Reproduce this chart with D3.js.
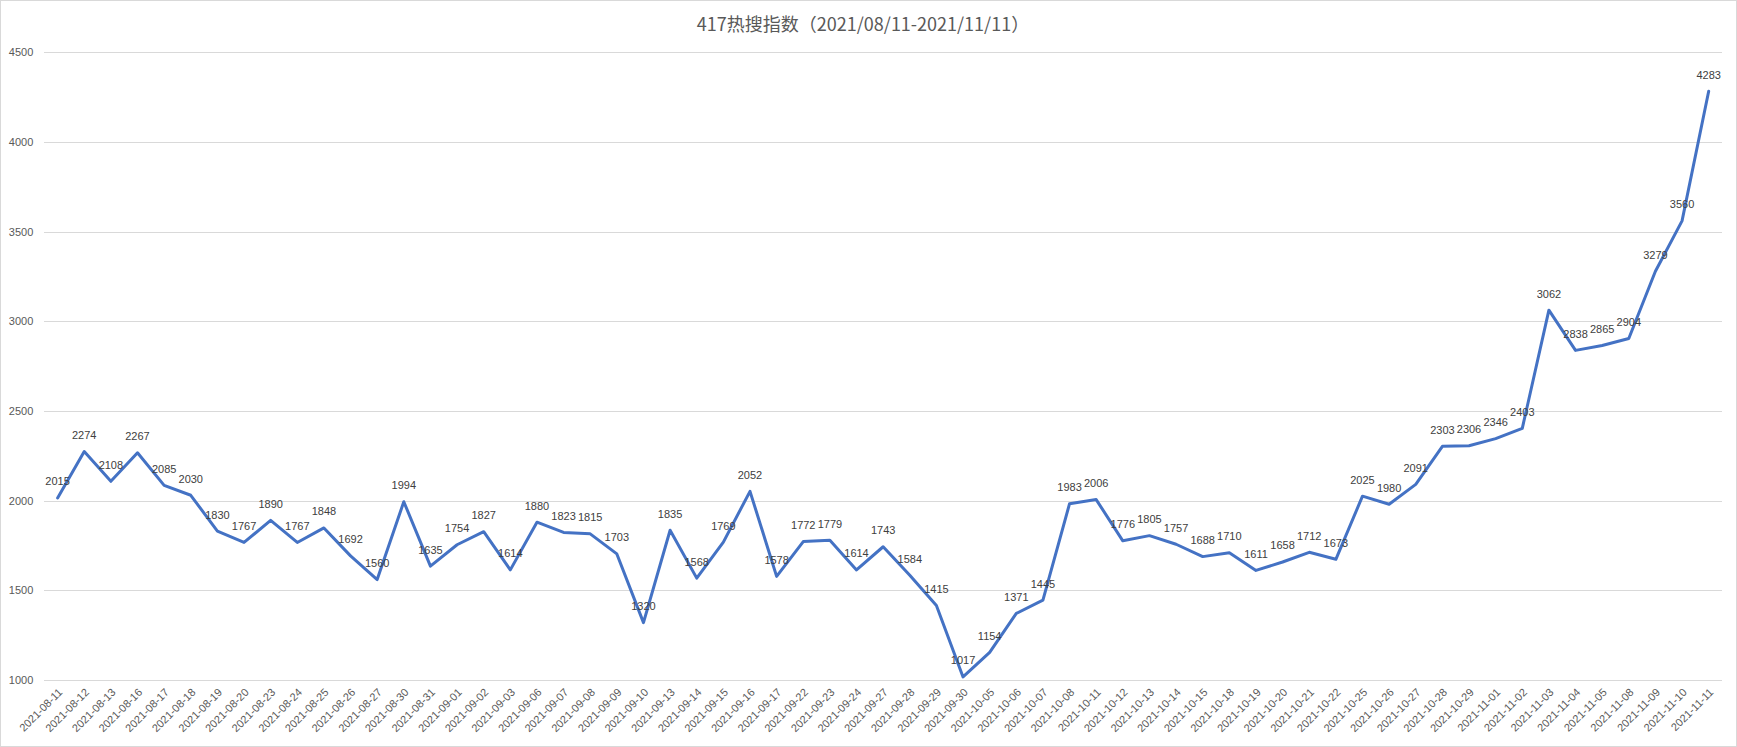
<!DOCTYPE html>
<html>
<head>
<meta charset="utf-8">
<script src="https://cdn.jsdelivr.net/npm/d3@7"></script>
<style>
  html, body { margin: 0; padding: 0; background: #fff; }
  svg { display: block; }
</style>
</head>
<body>
<svg id="chart" width="1737" height="747"></svg>
<script>
const title = "417热搜指数（2021/08/11-2021/11/11）";
const categories = [
  "2021-08-11","2021-08-12","2021-08-13","2021-08-16","2021-08-17","2021-08-18","2021-08-19","2021-08-20",
  "2021-08-23","2021-08-24","2021-08-25","2021-08-26","2021-08-27","2021-08-30","2021-08-31",
  "2021-09-01","2021-09-02","2021-09-03","2021-09-06","2021-09-07","2021-09-08","2021-09-09","2021-09-10",
  "2021-09-13","2021-09-14","2021-09-15","2021-09-16","2021-09-17","2021-09-22","2021-09-23","2021-09-24",
  "2021-09-27","2021-09-28","2021-09-29","2021-09-30",
  "2021-10-05","2021-10-06","2021-10-07","2021-10-08","2021-10-11","2021-10-12","2021-10-13","2021-10-14",
  "2021-10-15","2021-10-18","2021-10-19","2021-10-20","2021-10-21","2021-10-22","2021-10-25","2021-10-26",
  "2021-10-27","2021-10-28","2021-10-29",
  "2021-11-01","2021-11-02","2021-11-03","2021-11-04","2021-11-05","2021-11-08","2021-11-09","2021-11-10","2021-11-11"
];
const values = [
  2015, 2274, 2108, 2267, 2085, 2030, 1830, 1767, 1890, 1767, 1848, 1692, 1560, 1994, 1635,
  1754, 1827, 1614, 1880, 1823, 1815, 1703, 1320, 1835, 1568, 1769, 2052, 1578, 1772, 1779, 1614,
  1743, 1584, 1415, 1017,
  1154, 1371, 1445, 1983, 2006, 1776, 1805, 1757, 1688, 1710, 1611, 1658, 1712, 1673, 2025, 1980,
  2091, 2303, 2306,
  2346, 2403, 3062, 2838, 2865, 2904, 3279, 3560, 4283
];
const yTicks = [1000, 1500, 2000, 2500, 3000, 3500, 4000, 4500];

const W = 1737, H = 747;
const plot = { left: 44.3, right: 1722, top: 52.3, bottom: 680 };
const svg = d3.select("#chart");
const font = "'Liberation Sans', Arial, sans-serif";

// outer border
svg.append("rect").attr("x", 0.5).attr("y", 0.5).attr("width", W - 1).attr("height", H - 1)
  .attr("fill", "#fff").attr("stroke", "#d9d9d9").attr("stroke-width", 1);

const x = d3.scalePoint().domain(categories)
  .range([plot.left, plot.right]).padding(0.5);
const y = d3.scaleLinear().domain([1000, 4500]).range([plot.bottom, plot.top]);

// title
svg.append("text").attr("x", 863).attr("y", 31)
  .attr("text-anchor", "middle")
  .attr("font-family", "'Noto Sans CJK SC', sans-serif")
  .attr("font-size", 18).attr("fill", "#595959").text(title);

// y axis with gridlines
const yAxis = d3.axisLeft(y).tickValues(yTicks)
  .tickSize(-(plot.right - plot.left)).tickPadding(11).tickFormat(d3.format("d"));
const gy = svg.append("g").attr("transform", `translate(${plot.left},0)`).call(yAxis);
gy.select(".domain").remove();
gy.selectAll(".tick line").attr("stroke", "#d9d9d9").attr("stroke-width", 1)
  .attr("shape-rendering", "crispEdges");
gy.selectAll(".tick text").attr("font-family", font).attr("font-size", 11)
  .attr("fill", "#595959");

// x axis labels
const xAxis = d3.axisBottom(x).tickSize(0).tickPadding(0);
const gx = svg.append("g").attr("transform", `translate(0,${plot.bottom})`).call(xAxis);
gx.select(".domain").remove();
gx.selectAll(".tick text")
  .attr("font-family", font).attr("font-size", 11).attr("fill", "#595959")
  .attr("text-anchor", "end")
  .attr("dy", null)
  .attr("transform", "translate(5,13) rotate(-45)");

// line
const line = d3.line().x((d, i) => x(categories[i])).y(d => y(d));
svg.append("path").datum(values)
  .attr("fill", "none").attr("stroke", "#4472C4").attr("stroke-width", 3)
  .attr("stroke-linejoin", "round").attr("stroke-linecap", "round")
  .attr("d", line);

// data labels
svg.append("g").selectAll("text").data(values).join("text")
  .attr("x", (d, i) => x(categories[i]))
  .attr("y", d => y(d) - 12.5)
  .attr("text-anchor", "middle")
  .attr("font-family", font).attr("font-size", 11).attr("fill", "#404040")
  .text(d => d);
</script>
</body>
</html>
